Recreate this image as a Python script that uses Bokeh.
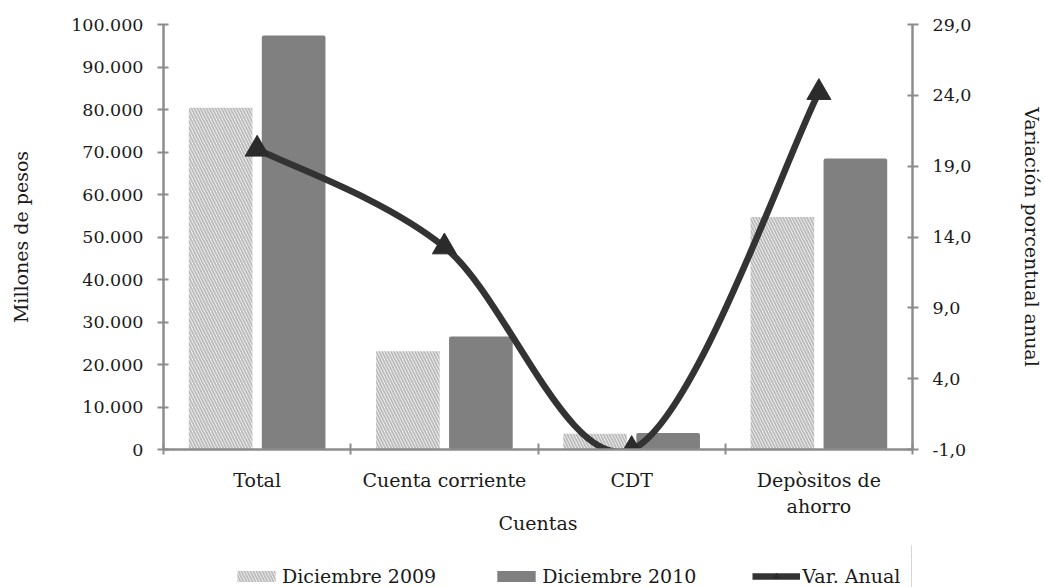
from bokeh.plotting import figure
from bokeh.layouts import column
from bokeh.models import (Range1d, LinearAxis, FixedTicker, Legend, LegendItem,
                          ColumnDataSource)
from bokeh.embed import file_html
from bokeh.resources import INLINE

# ---------------- data ----------------
categories = ["Total", "Cuenta corriente", "CDT", "Depòsitos de\nahorro"]
dic_2009 = [80400, 23100, 3700, 54700]
dic_2010 = [97400, 26600, 3900, 68500]
var_anual = [20.2, 13.3, -1.0, 24.2]

left_ticks = [0, 10000, 20000, 30000, 40000, 50000, 60000, 70000, 80000, 90000, 100000]
left_labels = ["0", "10.000", "20.000", "30.000", "40.000", "50.000", "60.000",
               "70.000", "80.000", "90.000", "100.000"]
right_ticks = [-1, 4, 9, 14, 19, 24, 29]
right_labels = ["-1,0", "4,0", "9,0", "14,0", "19,0", "24,0", "29,0"]
series_names = ["Diciembre 2009", "Diciembre 2010", "Var. Anual"]

FONT = "DejaVu Serif"
AXIS_COL = "#8c8c8c"
TXT = "#1a1a1a"
HATCH = dict(fill_color="white", line_color=None, hatch_pattern="\\",
             hatch_color="#bdbdbd", hatch_scale=6, hatch_weight=2.1)
SOLID = dict(fill_color="#808080", line_color=None, border_radius=2)
LINE = dict(line_color="#333333", line_width=6.5)
MARK = dict(marker="triangle", size=24, fill_color="#2b2b2b", line_color="#2b2b2b")

n = len(categories)
centers = [i + 0.5 for i in range(n)]
off = 0.195
bw = 0.34

p = figure(frame_width=749, frame_height=425, output_backend="svg", toolbar_location=None,
           x_range=Range1d(0, n), y_range=Range1d(0, 100000),
           min_border_left=163, min_border_right=133, min_border_top=24,
           min_border_bottom=95)
p.outline_line_color = None
p.grid.visible = False
p.extra_y_ranges = {"var": Range1d(-1, 29)}

# bars
src09 = ColumnDataSource(dict(x=[c - off for c in centers], top=dic_2009))
src10 = ColumnDataSource(dict(x=[c + off for c in centers], top=dic_2010))
p.vbar(x="x", top="top", width=bw, source=src09, **HATCH)
p.vbar(x="x", top="top", width=bw, source=src10, **SOLID)

# smoothed line (Bezier segments built from the data points)
xs = centers
ys = var_anual
x0, y0, x1, y1, cx0, cy0, cx1, cy1 = [], [], [], [], [], [], [], []
for i in range(n - 1):
    pxm = xs[i - 1] if i > 0 else xs[i]
    pym = ys[i - 1] if i > 0 else ys[i]
    pxp = xs[i + 2] if i + 2 < n else xs[i + 1]
    pyp = ys[i + 2] if i + 2 < n else ys[i + 1]
    x0.append(xs[i]); y0.append(ys[i]); x1.append(xs[i + 1]); y1.append(ys[i + 1])
    cx0.append(xs[i] + (xs[i + 1] - pxm) / 6); cy0.append(ys[i] + (ys[i + 1] - pym) / 6)
    cx1.append(xs[i + 1] - (pxp - xs[i]) / 6); cy1.append(ys[i + 1] - (pyp - ys[i]) / 6)
p.bezier(x0=x0, y0=y0, x1=x1, y1=y1, cx0=cx0, cy0=cy0, cx1=cx1, cy1=cy1,
         y_range_name="var", **LINE)
p.scatter(x=xs, y=ys, y_range_name="var", **MARK)

# axes
xa = p.xaxis[0]
xa.ticker = FixedTicker(ticks=centers, minor_ticks=[0, 1, 2, 3, 4])
xa.major_label_overrides = {c: lab for c, lab in zip(centers, categories)}
xa.major_tick_in = 0
xa.major_tick_out = 0
xa.minor_tick_in = 6
xa.minor_tick_out = 5
xa.minor_tick_line_color = AXIS_COL
xa.minor_tick_line_width = 2
xa.axis_label = "Cuentas"
xa.major_label_standoff = 14
xa.axis_label_standoff = -8

ya = p.yaxis[0]
ya.ticker = FixedTicker(ticks=left_ticks)
ya.major_label_overrides = {t: l for t, l in zip(left_ticks, left_labels)}
ya.axis_label = "Millones de pesos"
ya.major_tick_in = 5
ya.major_tick_out = 6
ya.minor_tick_line_color = None
ya.major_label_standoff = 14
ya.axis_label_standoff = 36

ra = LinearAxis(y_range_name="var", ticker=FixedTicker(ticks=right_ticks),
                axis_label="Variación porcentual anual")
ra.major_label_overrides = {t: l for t, l in zip(right_ticks, right_labels)}
ra.major_tick_in = 5
ra.major_tick_out = 6
ra.minor_tick_line_color = None
ra.major_label_standoff = 14
ra.axis_label_standoff = 47
p.add_layout(ra, "right")

for ax in [xa, ya, ra]:
    ax.axis_line_color = AXIS_COL
    ax.axis_line_width = 2.5
    ax.major_tick_line_color = AXIS_COL
    ax.major_tick_line_width = 2
    ax.major_label_text_font = FONT
    ax.major_label_text_font_size = "17.5px"
    ax.major_label_text_color = TXT
    ax.axis_label_text_font = FONT
    ax.axis_label_text_font_size = "19px"
    ax.axis_label_text_font_style = "normal"
    ax.axis_label_text_color = TXT
xa.major_label_text_font_size = "19px"

# ---------------- legend strip (separate figure below the chart) ----------------
lg = figure(width=1045, height=43, output_backend="svg", toolbar_location=None,
            x_range=Range1d(0, 1), y_range=Range1d(0, 1),
            x_axis_location=None, y_axis_location=None,
            min_border=0, min_border_left=0, min_border_right=0,
            min_border_top=0, min_border_bottom=0)
lg.outline_line_color = None
lg.grid.visible = False
# legend proxies placed outside the visible range (only their styles are used)
l09 = lg.vbar(x=[5], top=[5], width=0.1, **HATCH)
l10 = lg.vbar(x=[5], top=[5], width=0.1, **SOLID)
lln = lg.line(x=[5, 6], y=[5, 6], **LINE)
lmk = lg.scatter(x=[5], y=[5], **MARK)

legend = Legend(items=[
    LegendItem(label=series_names[0], renderers=[l09]),
    LegendItem(label=series_names[1], renderers=[l10]),
    LegendItem(label=series_names[2], renderers=[lln, lmk]),
], orientation="horizontal", location=(69, 0),
   label_text_font=FONT, label_text_font_size="19px", label_text_color=TXT,
   glyph_width=48, glyph_height=14, spacing=56, label_standoff=2,
   border_line_color=None, background_fill_alpha=0, margin=0, padding=0)
lg.add_layout(legend, "center")

layout = column(p, lg, spacing=0)
open("out.html", "w").write(file_html(layout, INLINE))
